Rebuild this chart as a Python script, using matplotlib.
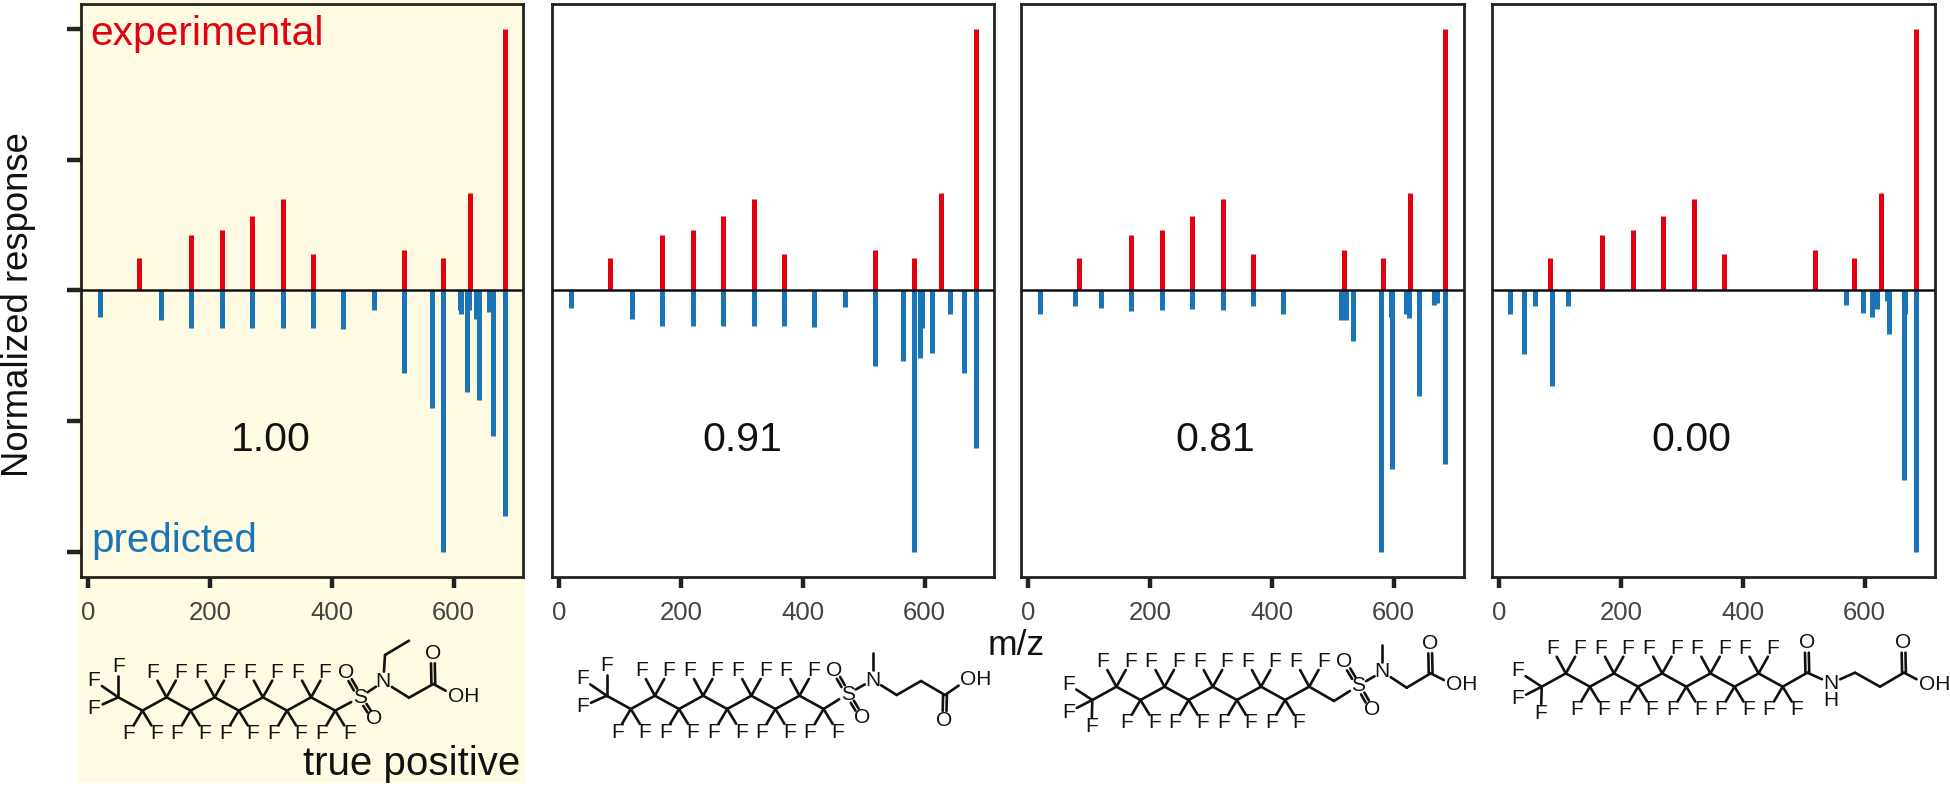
import matplotlib
matplotlib.use("Agg")
from matplotlib import pyplot as plt
from matplotlib.patches import Rectangle
import numpy as np

plt.rcParams['font.family'] = ['Liberation Sans', 'DejaVu Sans']

# Spectra
expMz = [83, 169, 219, 269, 319, 369, 519, 583, 627, 685]
expResp = [0.125, 0.212, 0.229, 0.285, 0.349, 0.140, 0.155, 0.125, 0.371, 1.0]

predMz1 = [19, 119, 169, 219, 269, 319, 369, 419, 469, 519, 565, 583, 611, 613, 622, 625, 637, 641, 658, 665, 685]
predResp1 = [0.102, 0.115, 0.143, 0.143, 0.143, 0.143, 0.143, 0.149, 0.074, 0.315, 0.451, 1.0,
             0.074, 0.090, 0.391, 0.074, 0.110, 0.418, 0.084, 0.558, 0.862]
predMz2 = [19, 119, 169, 219, 269, 319, 369, 419, 469, 519, 565, 583, 593, 595, 613, 641, 665, 685]
predResp2 = [0.068, 0.110, 0.138, 0.138, 0.138, 0.138, 0.138, 0.140, 0.065, 0.290, 0.270, 1.0,
             0.261, 0.143, 0.240, 0.090, 0.316, 0.605]
predMz3 = [19, 77, 119, 169, 219, 269, 319, 369, 419, 514, 521, 534, 579, 595, 597, 620, 625, 641, 666, 671, 685]
predResp3 = [0.090, 0.061, 0.066, 0.080, 0.074, 0.070, 0.074, 0.062, 0.092, 0.112, 0.112, 0.196, 1.0,
             0.102, 0.683, 0.092, 0.105, 0.404, 0.057, 0.050, 0.663]
predMz4 = [18, 41, 59, 86, 113, 569, 597, 612, 620, 637, 640, 664, 667, 685]
predResp4 = [0.092, 0.242, 0.059, 0.366, 0.059, 0.057, 0.087, 0.103, 0.073, 0.042, 0.166, 0.725, 0.090, 1.0]

predMz = [predMz1, predMz2, predMz3, predMz4]
predResp = [predResp1, predResp2, predResp3, predResp4]
scores = ['1.00', '0.91', '0.81', '0.00']
scoreX = [271, 742, 1215, 1691]
xTicks = [0, 200, 400, 600]
yTicks = [-1, -0.5, 0, 0.5, 1]

W, H = 1950, 788
panelLeft = [81, 552, 1021, 1492]
panelRight = [523, 994, 1464, 1935]
panelTop, panelBottom = 3.5, 577
red = '#E3000F'
blue = '#1A75B8'
dark = '#222222'
cream = '#FFFBE2'

fig = plt.figure(figsize=(W/100, H/100), dpi=100)
# Pale box behind the first panel and its molecule
fig.patches.append(Rectangle((78/W, 1-783/H), (525-78)/W, 783/H, transform=fig.transFigure,
                             facecolor=cream, edgecolor='none', zorder=-5))

pxPerMz = 0.6085
for i in range(4):
    ax = fig.add_axes([panelLeft[i]/W, 1-panelBottom/H, (panelRight[i]-panelLeft[i])/W, (panelBottom-panelTop)/H])
    ax.patch.set_alpha(0)
    ax.vlines(expMz, 0, expResp, color=red, linewidth=3.6, capstyle='butt')
    ax.vlines(predMz[i], 0, -np.array(predResp[i]), color=blue, linewidth=3.6, capstyle='butt')
    ax.axhline(0, color='#111111', linewidth=1.8, zorder=5)
    ax.set_xlim(-12.3, -12.3+(panelRight[i]-panelLeft[i])/pxPerMz)
    ax.set_ylim(-1.097, 1.097)
    ax.set_xticks(xTicks)
    ax.tick_params(axis='x', length=8, width=3.2, color=dark, labelsize=18.5, labelcolor='#444444', pad=9)
    if i == 0:
        ax.set_yticks(yTicks)
        ax.tick_params(axis='y', length=10, width=3.2, color=dark, labelleft=False)
    else:
        ax.set_yticks([])
    for s in ax.spines.values():
        s.set_linewidth(2.0)
        s.set_color(dark)
    # score under the baseline
    fig.text(scoreX[i]/W, 1-451/H, scores[i], fontsize=29.5, color='#111111', ha='center', va='baseline')

fig.text(90/W, 1-45/H, 'experimental', color=red, fontsize=29.3, va='baseline')
fig.text(91/W, 1-552/H, 'predicted', color=blue, fontsize=29, va='baseline')
fig.text(19/W, 1-305/H, 'Normalized response', rotation=90, fontsize=26.3, color='#111111', ha='center', va='center')
fig.text(1016/W, 1-655/H, 'm/z', fontsize=25.5, color='#111111', ha='center', va='baseline')
fig.text(520/W, 1-775/H, 'true positive', fontsize=29, color='#111111', ha='right', va='baseline')

# Overlay in pixels for the structures
mol = fig.add_axes([0, 0, 1, 1])
mol.set_xlim(0, W)
mol.set_ylim(H, 0)
mol.axis('off')
mol.patch.set_alpha(0)

def bond(a, b, trimA=0.0, trimB=0.0, off=0.0):
    a = np.array(a, dtype=float)
    b = np.array(b, dtype=float)
    d = b-a
    L = np.hypot(d[0], d[1])
    u = d/L
    n = np.array([-u[1], u[0]])
    p = a+u*trimA+n*off
    q = b-u*trimB+n*off
    mol.plot([p[0], q[0]], [p[1], q[1]], color='#111111', lw=1.9, solid_capstyle='round')

def atom(p, s):
    mol.text(p[0], p[1], s, fontsize=15, color='#111111', ha='center', va='center')

def tail(x0, y0, nCF2, cf3F, firstDown):
    # zigzag perfluoro chain, odd carbons sit one step away from y0
    dx, dy = 24.1, 13.3
    step = dy if firstDown else -dy
    pts = [(x0+dx*k, y0+(step if k % 2 else 0)) for k in range(nCF2+1)]
    for k in range(len(pts)-1):
        bond(pts[k], pts[k+1])
    for off in cf3F:
        f = (x0+off[0], y0+off[1])
        bond((x0, y0), f, 0, 9.5)
        atom(f, 'F')
    for k, p in enumerate(pts[1:], start=1):
        low = (k % 2 == 1) == firstDown
        for sx in [-13.6, 14]:
            f = (p[0]+sx, p[1]+(23 if low else -25))
            bond(p, f, 0, 9.5)
            atom(f, 'F')
    return pts[-1]

def sulfonyl(last, S, O1, O2, N):
    bond(last, S, 0, 10)
    atom(S, 'S')
    for O in (O1, O2):
        bond(S, O, 9, 9, 1.9)
        bond(S, O, 9, 9, -1.9)
        atom(O, 'O')
    bond(S, N, 9, 9)
    atom(N, 'N')

def acid(c, O, OH, prev):
    bond(prev, c)
    bond(c, O, 0, 10, 1.9)
    bond(c, O, 0, 10, -1.9)
    atom(O, 'O')
    bond(c, (OH[0]-8, OH[1]), 0, 11)
    atom(OH, 'OH')

upF = [(0, -30.5), (-24.3, -16.7), (-24.3, 11)]
lowF = [(-24, -15.7), (-24, 12.3), (-0.7, 26.7)]

def z(ox, x, y):
    return (ox+x/3, 620+y/3)

# Molecule 1
last = tail(118.3, 697.3, 9, upF, True)
sulfonyl(last, z(70, 870, 232), z(70, 827, 157), z(70, 912, 297), z(70, 940, 185))
N = z(70, 940, 185)
bond(N, z(70, 945, 105), 10, 0)
bond(z(70, 945, 105), z(70, 1017, 62))
bond(N, z(70, 1017, 233), 10, 0)
acid(z(70, 1090, 192), z(70, 1088, 100), z(70, 1180, 228), z(70, 1017, 233))

# Molecule 2
last = tail(606.7, 695.7, 9, upF, True)
sulfonyl(last, z(560, 863, 222), z(560, 822, 150), z(560, 905, 292), z(560, 938, 180))
N = z(560, 938, 180)
bond(N, z(560, 938, 98), 10, 0)
bond(N, z(560, 1010, 225), 10, 0)
bond(z(560, 1010, 225), z(560, 1083, 183))
acid(z(560, 1155, 225), z(560, 1153, 303), z(560, 1247, 178), z(560, 1083, 183))

# Molecule 3
last = tail(1092.3, 700, 9, lowF, False)
CH2 = z(1040, 882, 243)
bond(last, CH2)
sulfonyl(CH2, z(1040, 955, 197), z(1040, 912, 125), z(1040, 995, 268), z(1040, 1027, 155))
N = z(1040, 1027, 155)
bond(N, z(1040, 1027, 75), 10, 0)
bond(N, z(1040, 1100, 203), 10, 0)
acid(z(1040, 1172, 160), z(1040, 1170, 70), z(1040, 1265, 195), z(1040, 1100, 203))

# Molecule 4
last = tail(1541.7, 686.7, 10, lowF, False)
C = z(1490, 952, 158)
O = z(1490, 950, 68)
N = z(1490, 1023, 190)
bond(last, C)
bond(C, O, 0, 10, 1.9)
bond(C, O, 0, 10, -1.9)
atom(O, 'O')
bond(C, N, 0, 10)
atom(N, 'N')
atom(z(1490, 1023, 240), 'H')
bond(N, z(1490, 1095, 158), 10, 0)
bond(z(1490, 1095, 158), z(1490, 1170, 200))
acid(z(1490, 1242, 158), z(1490, 1240, 68), z(1490, 1333, 193), z(1490, 1170, 200))

fig.savefig('out.png', dpi=100)
